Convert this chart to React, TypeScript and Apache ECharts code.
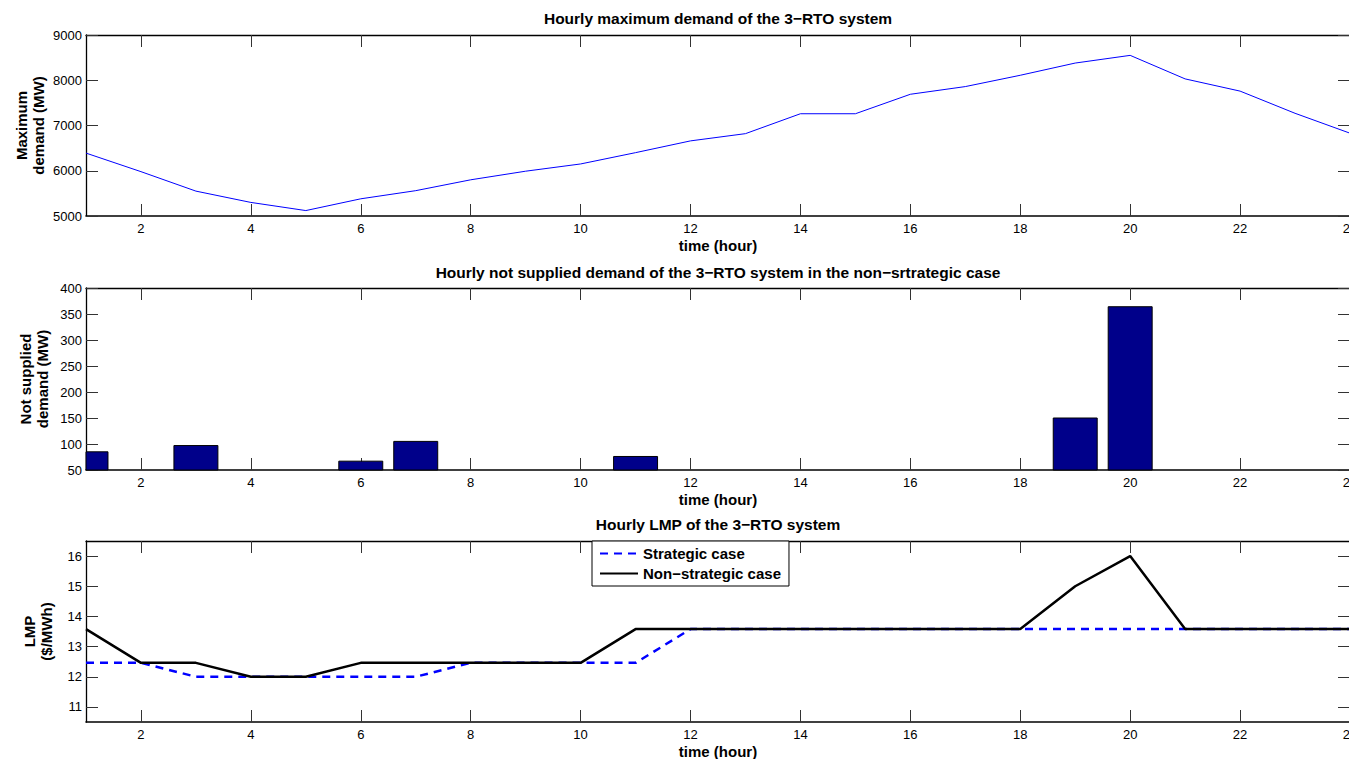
import React, { useEffect, useRef } from "react";
import * as echarts from "echarts";

const hours = [1, 2, 3, 4, 5, 6, 7, 8, 9, 10, 11, 12, 13, 14, 15, 16, 17, 18, 19, 20, 21, 22, 23, 24];
const hourTicks = [2, 4, 6, 8, 10, 12, 14, 16, 18, 20, 22, 24];

const maxDemand = [6390, 5980, 5550, 5300, 5120, 5380, 5560, 5800, 5990, 6150, 6400, 6660, 6820, 7260, 7260, 7690, 7860, 8110, 8380, 8550, 8030, 7760, 7270, 6830];
const notSupplied = [85, 0, 97, 0, 0, 67, 105, 0, 0, 0, 76, 0, 0, 0, 0, 0, 0, 0, 150, 364, 0, 0, 0, 0];
const lmpStrategic = [12.46, 12.46, 12, 12, 12, 12, 12, 12.46, 12.46, 12.46, 12.46, 13.58, 13.58, 13.58, 13.58, 13.58, 13.58, 13.58, 13.58, 13.58, 13.58, 13.58, 13.58, 13.58];
const lmpNonStrategic = [13.58, 12.46, 12.46, 12, 12, 12.46, 12.46, 12.46, 12.46, 12.46, 13.58, 13.58, 13.58, 13.58, 13.58, 13.58, 13.58, 13.58, 15, 16, 13.58, 13.58, 13.58, 13.58];
const lmpTicks = [11, 12, 13, 14, 15, 16];

const titles = [
  "Hourly maximum demand of the 3\u2212RTO system",
  "Hourly not supplied demand of the 3\u2212RTO system in the non\u2212srtrategic case",
  "Hourly LMP of the 3\u2212RTO system",
];
const yNames = ["Maximum\ndemand (MW)", "Not supplied\ndemand (MW)", "LMP\n($/MWh)"];
const xName = "time (hour)";
const legendNames = ["Strategic case", "Non\u2212strategic case"];

const FONT = "'Liberation Sans', Arial, Helvetica, sans-serif";
const BAR_FRACTION = 0.8;

export default function App() {
  const ref = useRef<HTMLDivElement>(null);
  useEffect(() => {
    if (!ref.current) return;
    const chart = echarts.init(ref.current, undefined, { renderer: "svg" });

    const grids = [
      { left: 86, right: 2, top: 35, height: 181, outerBoundsMode: "none", containLabel: false },
      { left: 86, right: 2, top: 288, height: 182, outerBoundsMode: "none", containLabel: false },
      { left: 86, right: 2, top: 541, height: 181, outerBoundsMode: "none", containLabel: false },
    ];
    const titleY = [18, 272, 524];
    const yNameGaps = [39, 35, 31];

    const tickStyle = { show: true, inside: true, length: 12, lineStyle: { color: "#333", width: 1 } };
    const xAxes: any[] = [];
    const yAxes: any[] = [];
    const yCfg = [
      { min: 5000, max: 9000, interval: 1000 },
      { min: 50, max: 400, interval: 50 },
      { min: 10.5, max: 16.5, custom: lmpTicks },
    ];
    const fmt = (v: number) => String(v);
    grids.forEach((_, i) => {
      xAxes.push({
        type: "value", gridIndex: i, min: 1, max: 24, position: "bottom",
        axisLine: { show: true, onZero: false, lineStyle: { color: "#000", width: 1.6 } },
        axisTick: { ...tickStyle, customValues: hourTicks },
        axisLabel: { customValues: hourTicks, color: "#000", fontSize: 13, fontFamily: FONT, margin: 6, formatter: fmt },
        splitLine: { show: false },
        name: xName, nameLocation: "middle", nameGap: 22, nameMoveOverlap: false,
        nameTextStyle: { color: "#000", fontSize: 15, fontWeight: "bold", fontFamily: FONT },
      });
      xAxes.push({
        type: "value", gridIndex: i, min: 1, max: 24, position: "top",
        axisLine: { show: true, onZero: false, lineStyle: { color: "#000", width: 1.3 } },
        axisTick: { ...tickStyle, customValues: hourTicks },
        axisLabel: { show: false, customValues: hourTicks },
        splitLine: { show: false },
      });
      const c: any = yCfg[i];
      const base: any = { type: "value", gridIndex: i, min: c.min, max: c.max, splitLine: { show: false } };
      if (c.interval) base.interval = c.interval;
      const tick: any = { ...tickStyle };
      const lab: any = { color: "#000", fontSize: 13, fontFamily: FONT, margin: 4, formatter: fmt };
      if (c.custom) { tick.customValues = c.custom; lab.customValues = c.custom; }
      yAxes.push({
        ...base, position: "left",
        axisLine: { show: true, onZero: false, lineStyle: { color: "#000", width: 1.3 } },
        axisTick: tick, axisLabel: lab,
        name: yNames[i], nameLocation: "middle", nameGap: yNameGaps[i], nameRotate: 90, nameMoveOverlap: false,
        nameTextStyle: { color: "#000", fontSize: 15, fontWeight: "bold", fontFamily: FONT, lineHeight: 17 },
      });
      yAxes.push({
        ...base, position: "right",
        axisLine: { show: true, onZero: false, lineStyle: { color: "#000", width: 1.3 } },
        axisTick: tick, axisLabel: { show: false, ...(c.custom ? { customValues: c.custom } : {}) },
      });
    });

    chart.setOption({
      animation: false,
      backgroundColor: "#fff",
      textStyle: { fontFamily: FONT },
      grid: grids,
      xAxis: xAxes,
      yAxis: yAxes,
      legend: {
        show: true,
        data: legendNames,
        orient: "vertical",
        left: 592,
        top: 541,
        itemWidth: 38,
        itemHeight: 14,
        itemGap: 5,
        padding: [5, 8, 5, 7],
        backgroundColor: "#fff",
        borderColor: "#000",
        borderWidth: 1,
        borderRadius: 0,
        itemStyle: { color: "transparent", borderWidth: 0, opacity: 0 },
        textStyle: { color: "#000", fontSize: 15, fontWeight: "bold", fontFamily: FONT, lineHeight: 15 },
      },
      graphic: titles.map((t, i) => ({
        type: "text",
        x: 718,
        y: titleY[i],
        style: {
          text: t,
          textAlign: "center",
          textVerticalAlign: "middle",
          fill: "#000",
          fontSize: 15.5,
          fontWeight: "bold",
          fontFamily: FONT,
        },
      })),
      series: [
        {
          type: "line", xAxisIndex: 0, yAxisIndex: 0,
          data: hours.map((h, i) => [h, maxDemand[i]]),
          symbol: "none", lineStyle: { color: "#0000ff", width: 1 },
        },
        {
          type: "custom", xAxisIndex: 2, yAxisIndex: 2,
          data: hours.map((h, i) => [h, notSupplied[i]]),
          renderItem: (params: any, api: any) => {
            const x = api.value(0);
            const v = api.value(1);
            if (!v) return null;
            const top = api.coord([x, v]);
            const bottom = api.coord([x, 0]);
            const w = api.size([BAR_FRACTION, 0])[0];
            const cs = params.coordSys;
            const shape = echarts.graphic.clipRectByRect(
              { x: top[0] - w / 2, y: top[1], width: w, height: bottom[1] - top[1] },
              { x: cs.x, y: cs.y, width: cs.width, height: cs.height }
            );
            if (!shape) return null;
            return {
              type: "rect",
              shape,
              style: { fill: "#00008a", stroke: "#000", lineWidth: 1 },
            };
          },
        },
        {
          name: legendNames[0],
          type: "line", xAxisIndex: 4, yAxisIndex: 4,
          data: hours.map((h, i) => [h, lmpStrategic[i]]),
          symbol: "none", lineStyle: { color: "#0000ff", width: 2.5, type: [8, 6] },
          itemStyle: { color: "#0000ff" },
        },
        {
          name: legendNames[1],
          type: "line", xAxisIndex: 4, yAxisIndex: 4,
          data: hours.map((h, i) => [h, lmpNonStrategic[i]]),
          symbol: "none", lineStyle: { color: "#000", width: 2.5 },
          itemStyle: { color: "#000" },
        },
      ],
    });
    return () => chart.dispose();
  }, []);
  return (
    <div
      ref={ref}
      style={{ position: "fixed", left: 0, top: 0, width: 1352, height: 759 }}
    />
  );
}
